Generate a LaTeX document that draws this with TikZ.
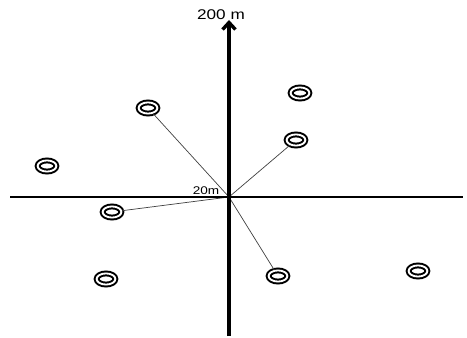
\documentclass[tikz,border=0pt]{standalone}
\usepackage{fontspec}
\setmainfont{Liberation Sans}
\usetikzlibrary{arrows.meta,positioning,shapes.geometric}

\begin{document}
\begin{tikzpicture}[x=0.03cm,y=-0.03cm,every node/.style={font=\small},
  ring/.style={ellipse,draw,double=white,line width=1.7pt,double distance=1.6pt,inner sep=0pt,minimum width=16pt,minimum height=9.5pt},
  ray/.style={draw=black!75,line width=0.6pt},
  wide/.style={transform shape,xscale=1.22,inner sep=0pt}]
  \useasboundingbox (0,0) rectangle (467,338);
  \coordinate (o) at (229,197);
  \coordinate (xl) at (10,197); \coordinate (xr) at (463,197);
  \coordinate (yb) at (229,336); \coordinate (yt) at (229,20);
  % rays from the centre
  \foreach \n/\x/\y in {1/148/108,2/300/93,3/296/140,4/47/166,5/112/212,6/106/279,7/278/276,8/418/271}{
    \node[ring] (m\n) at (\x,\y) {};
  }
  \foreach \n in {1,3,5,7}{\draw[ray] (o) -- (m\n);}
  \draw[line width=1.5pt] (xl) -- (xr);
  \draw[line width=2.9pt,-{Straight Barb[length=6pt,width=11pt]}] (yb) -- (yt);
  \node[wide,font=\fontsize{12}{14}\selectfont] (top) at (221,15) {200 m};
  \node[wide,font=\fontsize{9.5}{11}\selectfont] (r20) at (206,191) {20m};
\end{tikzpicture}
\end{document}
